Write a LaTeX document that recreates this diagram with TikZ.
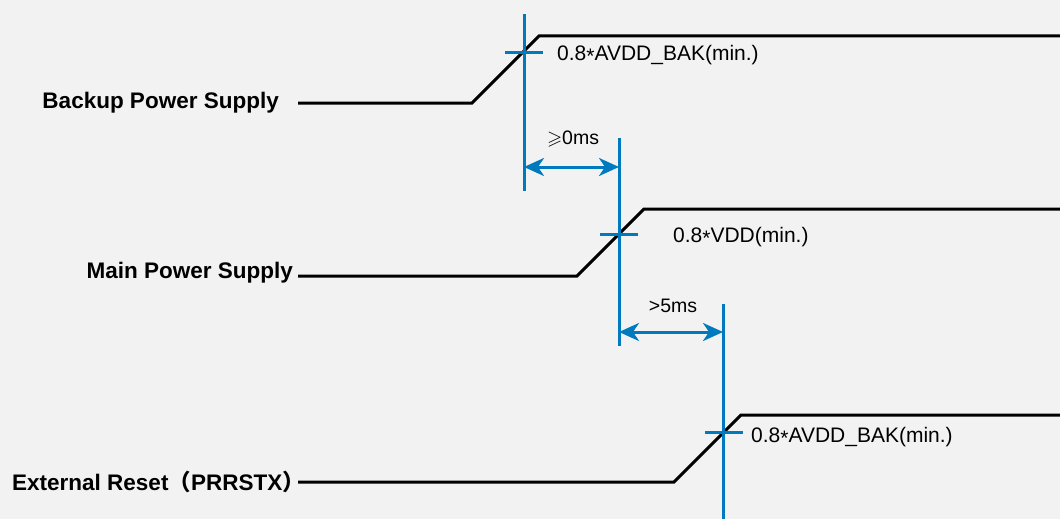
\documentclass[tikz,border=0pt]{standalone}
\usepackage{amssymb}
\usepackage{fontspec}
\setmainfont{Liberation Sans}
\newfontfamily\cjk{Noto Sans CJK SC}
\usetikzlibrary{arrows.meta}
\definecolor{bg}{HTML}{F2F2F2}
\definecolor{tblue}{RGB}{0,122,190}
\tikzset{
  sig/.style={line width=3pt, black, line join=miter},
  guide/.style={line width=3pt, tblue},
  dim/.style={line width=3pt, tblue, {Stealth[length=20pt,width=18pt,inset=6pt]}-{Stealth[length=20pt,width=18pt,inset=6pt]}},
  siglabel/.style={anchor=east, inner sep=0pt, font=\fontsize{22.5}{26}\selectfont\bfseries},
  vlabel/.style={anchor=west, inner sep=0pt, font=\fontsize{21}{25}\selectfont},
  dlabel/.style={inner sep=0pt, font=\fontsize{19.5}{23}\selectfont}
}
\newcommand{\midast}{\raisebox{-0.3ex}{*}}
\begin{document}
\begin{tikzpicture}[x=1pt,y=-1pt]
\fill[bg] (0,0) rectangle (1060,519);
\useasboundingbox (0,0) rectangle (1060,519);
% signal 1
\coordinate (b0) at (298,103);
\coordinate (b1) at (472,103);
\coordinate (b2) at (539,36);
\coordinate (b3) at (1061,36);
\draw[sig] (b0) -- (b1) -- (b2) -- (b3);
% signal 2
\coordinate (m0) at (298,276);
\coordinate (m1) at (577,276);
\coordinate (m2) at (644,209);
\coordinate (m3) at (1061,209);
\draw[sig] (m0) -- (m1) -- (m2) -- (m3);
% signal 3
\coordinate (e0) at (298,482);
\coordinate (e1) at (674,482);
\coordinate (e2) at (741,415);
\coordinate (e3) at (1061,415);
\draw[sig] (e0) -- (e1) -- (e2) -- (e3);
% labels
\node[siglabel] (lb) at (279,103) {Backup Power Supply};
\node[siglabel] (lm) at (293,273) {Main Power Supply};
\node[siglabel] (le) at (305,482) {External Reset{\cjk\bfseries （}PRRSTX{\cjk\bfseries ）}};
% guides
\coordinate (g1t) at (524,14);
\coordinate (g1b) at (524,191);
\coordinate (g2t) at (619,138);
\coordinate (g2b) at (619,346);
\coordinate (g3t) at (723,304);
\coordinate (g3b) at (723,520);
\draw[guide] (g1t) -- (g1b);
\draw[guide] (g2t) -- (g2b);
\draw[guide] (g3t) -- (g3b);
% ticks
\coordinate (t1a) at (505,53); \coordinate (t1b) at (543,53);
\coordinate (t2a) at (600,234); \coordinate (t2b) at (638,234);
\coordinate (t3a) at (705,432); \coordinate (t3b) at (743,432);
\draw[guide] (t1a) -- (t1b);
\draw[guide] (t2a) -- (t2b);
\draw[guide] (t3a) -- (t3b);
% threshold labels
\node[vlabel] (v1) at (557,55) {0.8\midast AVDD\_BAK(min.)};
\node[vlabel] (v2) at (673,237) {0.8\midast VDD(min.)};
\node[vlabel] (v3) at (751,437) {0.8\midast AVDD\_BAK(min.)};
% dimensions
\coordinate (d1a) at (524,167); \coordinate (d1b) at (619,167);
\coordinate (d2a) at (619,332); \coordinate (d2b) at (723,332);
\draw[dim] (d1a) -- (d1b);
\draw[dim] (d2a) -- (d2b);
\node[dlabel] (dl1) at (573,139) {$\geqslant$0ms};
\node[dlabel] (dl2) at (673,306) {>5ms};
\end{tikzpicture}
\end{document}
